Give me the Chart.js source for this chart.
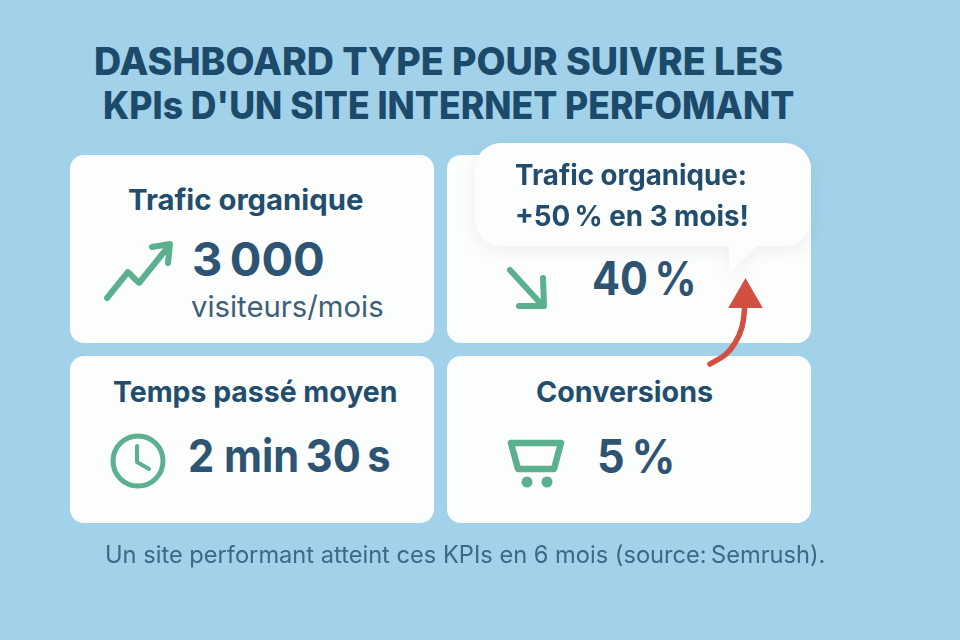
<!DOCTYPE html>
<html lang="fr">
<head>
<meta charset="utf-8">
<title>Dashboard KPIs</title>
<script src="https://cdn.jsdelivr.net/npm/chart.js@4/dist/chart.umd.min.js"></script>
<style>
  html, body { margin: 0; padding: 0; }
  body { width: 960px; height: 640px; overflow: hidden; position: relative; background: #a2d1ea; font-family: Inter, "Noto Sans", sans-serif; }
  .card { position: absolute; width: 364px; background: #fcfdfd; border-radius: 14px; }
  .bubble { position: absolute; left: 475px; top: 143px; width: 336px; height: 103px; background: #fcfdfd; border-radius: 26px; }
  .tail { position: absolute; left: 729px; top: 245px; width: 29px; height: 28px; background: #fcfdfd; clip-path: polygon(0 0, 100% 0, 0 100%); }
  .bubble-wrap { position: absolute; left: 0; top: 0; width: 960px; height: 640px; filter: drop-shadow(0 5px 8px rgba(40, 70, 90, 0.07)); }
  .t { position: absolute; white-space: nowrap; line-height: 1; transform-origin: left center; }
  .title { font-size: 38px; font-weight: 800; color: #1c4a6b; }
  .head { font-weight: 700; color: #234d6d; }
  .num { font-weight: 700; color: #2d5472; }
  canvas { position: absolute; }
</style>
</head>
<body>
  <div class="t title" id="title1" style="left:94px; top:42px; transform:scaleX(0.99)"></div>
  <div class="t title" id="title2" style="left:103px; top:86px; transform:scaleX(0.937)"></div>

  <div class="card" style="left:70px; top:155px; height:188px"></div>
  <div class="card" style="left:447px; top:155px; height:188px"></div>
  <div class="card" style="left:70px; top:356px; height:167px"></div>
  <div class="card" style="left:447px; top:356px; height:167px"></div>

  <canvas id="trendUp" width="76" height="66" style="left:100px; top:238px"></canvas>
  <canvas id="trendDown" width="55" height="52" style="left:500px; top:262px"></canvas>
  <canvas id="clock" width="66" height="66" style="left:105px; top:428px"></canvas>
  <canvas id="cart" width="72" height="57" style="left:500px; top:435px"></canvas>

  <div class="t head" id="kpi0" style="left:128px; top:185px; font-size:29px; transform:scaleX(1.01)"></div>
  <div class="t num" id="val0" style="left:192px; top:235px; font-size:47px"></div>
  <div class="t" id="unit0" style="left:191px; top:292px; font-size:29.3px; color:#3b6078"></div>

  <div class="t num" id="val1" style="left:592px; top:255px; font-size:46px; transform:scaleX(0.9)"></div>

  <div class="t head" id="kpi2" style="left:113px; top:377px; font-size:29px; transform:scaleX(0.98)"></div>
  <div class="t num" id="val2" style="left:188px; top:433px; font-size:45px; transform:scaleX(0.925)"></div>

  <div class="t head" id="kpi3" style="left:536px; top:377px; font-size:29px; transform:scaleX(0.99)"></div>
  <div class="t num" id="val3" style="left:597px; top:433px; font-size:46px; transform:scaleX(0.94)"></div>

  <div class="bubble-wrap">
    <div class="bubble"></div>
    <div class="tail"></div>
  </div>
  <div class="t head" id="note1" style="left:515px; top:161px; font-size:28px; transform:scaleX(0.99)"></div>
  <div class="t head" id="note2" style="left:515px; top:202px; font-size:28px; transform:scaleX(0.99)"></div>

  <canvas id="noteArrow" width="70" height="100" style="left:700px; top:272px"></canvas>

  <div class="t" id="source" style="left:105px; top:543px; font-size:23.65px; color:#3a6a85"></div>

<script>
// Texts
const titleLines = ["DASHBOARD TYPE POUR SUIVRE LES", "KPIs D'UN SITE INTERNET PERFOMANT"];
const kpiNames = ["Trafic organique", "Temps passé moyen", "Conversions"];
const kpiValues = ["3\u202f000", "40\u202f%", "2\u00a0min\u202f30\u202fs", "5\u202f%"];
const kpiUnit = "visiteurs/mois";
const noteLines = ["Trafic organique:", "+50\u202f% en 3 mois!"];
const sourceLine = "Un site performant atteint ces KPIs en 6 mois (source:\u202fSemrush).";

// Icon marks, in each small chart's own units
const upX = [7, 28, 39, 68];
const upY = [6, 32, 21, 57];
const upHeadX = [52, 70, 68];
const upHeadY = [57, 60, 41];

const downX = [10, 42];
const downY = [44, 9];
const downHeadX = [19, 44, 43];
const downHeadY = [8, 8, 36];

const clockFaceX = [33];
const clockFaceY = [33];
const clockHandsX = [32, 32, 44];
const clockHandsY = [48, 32, 25];

const cartX = [11, 61, 54, 18, 11];
const cartY = [49, 49, 23, 23, 49];
const wheelX = [27, 47];
const wheelY = [10, 10];

const arrowX = [10, 25, 35, 42, 45];
const arrowY = [8, 17, 29, 45, 67];
const arrowTipX = [45.5];
const arrowTipY = [74];

const GREEN = "#5bb08f";
const RED = "#d24f41";

function toPoints(xs, ys) {
    return xs.map((x, i) => ({ x: x, y: ys[i] }));
}

function lineSet(xs, ys, color, width, tension) {
    return {
        data: toPoints(xs, ys),
        showLine: true,
        borderColor: color,
        borderWidth: width,
        borderCapStyle: "round",
        borderJoinStyle: "round",
        // a small tension keeps Chart.js off its fast path, which merges points
        tension: tension || 0.001,
        capBezierPoints: false,
        pointRadius: 0,
        clip: false
    };
}

function iconChart(id, datasets) {
    const canvas = document.getElementById(id);
    return new Chart(canvas, {
        type: "scatter",
        data: { datasets: datasets },
        options: {
            responsive: false,
            animation: false,
            events: [],
            layout: { padding: 0, autoPadding: false },
            plugins: { legend: { display: false }, tooltip: { enabled: false } },
            scales: {
                x: { display: false, min: 0, max: canvas.width },
                y: { display: false, min: 0, max: canvas.height }
            }
        }
    });
}

document.getElementById("title1").textContent = titleLines[0];
document.getElementById("title2").textContent = titleLines[1];
document.getElementById("kpi0").textContent = kpiNames[0];
document.getElementById("kpi2").textContent = kpiNames[1];
document.getElementById("kpi3").textContent = kpiNames[2];
kpiValues.forEach((value, i) => {
    document.getElementById("val" + i).textContent = value;
});
document.getElementById("unit0").textContent = kpiUnit;
document.getElementById("note1").textContent = noteLines[0];
document.getElementById("note2").textContent = noteLines[1];
document.getElementById("source").textContent = sourceLine;

iconChart("trendUp", [
    lineSet(upX, upY, GREEN, 6),
    lineSet(upHeadX, upHeadY, GREEN, 6)
]);
iconChart("trendDown", [
    lineSet(downX, downY, GREEN, 6),
    lineSet(downHeadX, downHeadY, GREEN, 6)
]);
iconChart("clock", [
    {
        data: toPoints(clockFaceX, clockFaceY),
        pointRadius: 25,
        pointBackgroundColor: "transparent",
        pointBorderColor: GREEN,
        pointBorderWidth: 5,
        clip: false
    },
    lineSet(clockHandsX, clockHandsY, GREEN, 4)
]);
iconChart("cart", [
    lineSet(cartX, cartY, GREEN, 6.5),
    {
        data: toPoints(wheelX, wheelY),
        pointRadius: 5.5,
        pointBackgroundColor: GREEN,
        pointBorderWidth: 0,
        clip: false
    }
]);
iconChart("noteArrow", [
    lineSet(arrowX, arrowY, RED, 5.5, 0.4),
    {
        data: toPoints(arrowTipX, arrowTipY),
        pointStyle: "triangle",
        pointRadius: 20,
        pointBackgroundColor: RED,
        pointBorderWidth: 0,
        clip: false
    }
]);
</script>
</body>
</html>
